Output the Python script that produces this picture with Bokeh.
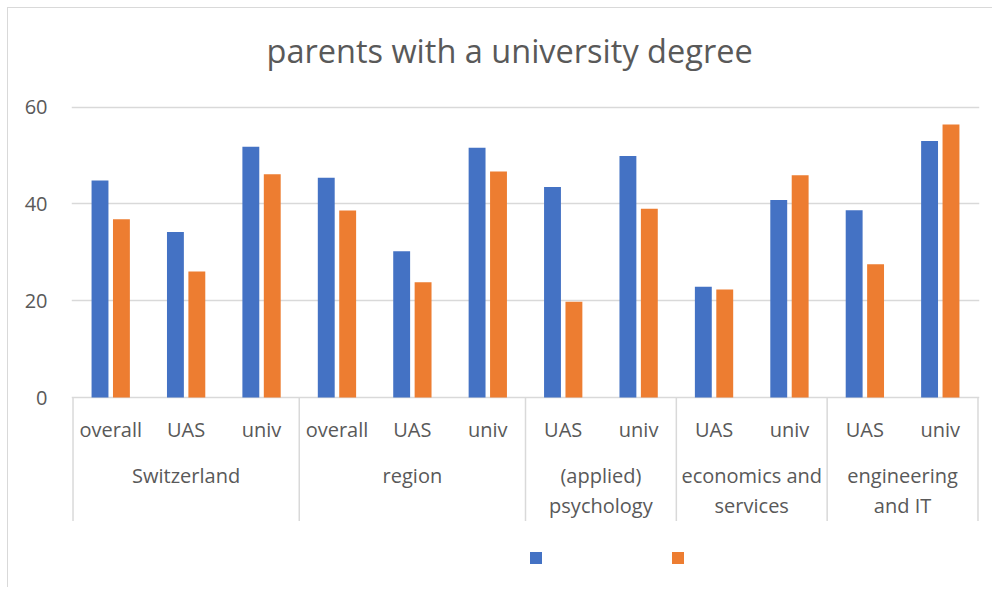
from bokeh.plotting import figure
from bokeh.models import ColumnDataSource, FactorRange, Range1d, FixedTicker, Legend, LegendItem
from bokeh.transform import dodge
from bokeh.core.properties import value
from bokeh.embed import file_html
from bokeh.resources import INLINE

# ---------------- data ----------------
groups = ["Switzerland", "region", "(applied) psychology", "economics and services", "engineering and IT"]
group_lines = [["Switzerland"], ["region"], ["(applied)", "psychology"],
               ["economics and", "services"], ["engineering", "and IT"]]
subcats = [["overall", "UAS", "univ"], ["overall", "UAS", "univ"],
           ["UAS", "univ"], ["UAS", "univ"], ["UAS", "univ"]]
series_blue = [44.8, 34.2, 51.8, 45.4, 30.2, 51.6, 43.5, 49.9, 22.9, 40.8, 38.7, 53.0]
series_orange = [36.8, 26.0, 46.1, 38.6, 23.8, 46.7, 19.8, 39.0, 22.3, 45.9, 27.5, 56.4]
y_ticks = [0, 20, 40, 60]
title_text = "parents with a university degree"

# ---------------- style ----------------
BLUE = "#4472C4"
ORANGE = "#ED7D31"
GRID = "#d9d9d9"
TXT = "#595959"
FONT = "Open Sans"
PPU = 290.5 / 60.0          # pixels per value unit
Y_START = -191.0 / PPU
Y_END = 60 + 16.5 / PPU

factors = [(g, s) for g, ss in zip(groups, subcats) for s in ss]

x_range = FactorRange(*factors, factor_padding=0, group_padding=0,
                      range_padding=0.02, range_padding_units="absolute")

p = figure(width=985, height=580, x_range=x_range, y_range=Range1d(Y_START, Y_END),
           x_axis_location=None, output_backend="svg", toolbar_location=None,
           min_border_left=63, min_border_right=14, min_border_top=82, min_border_bottom=0)
p.margin = (7, 0, 0, 7)
p.styles = {"border-left": "1px solid #d9d9d9", "border-top": "1px solid #d9d9d9"}
p.outline_line_color = None
p.background_fill_color = "white"
p.border_fill_color = "white"

# title
p.title.text = title_text
p.title.text_font = FONT
p.title.text_font_size = "32.5px"
p.title.text_font_style = "normal"
p.title.text_color = TXT
p.title.align = "left"
p.title.offset = 195
p.title.standoff = 35

# y axis / grid
ticker = FixedTicker(ticks=y_ticks)
p.yaxis.ticker = ticker
p.ygrid.ticker = ticker
p.yaxis.axis_line_color = None
p.yaxis.major_tick_line_color = None
p.yaxis.minor_tick_line_color = None
p.yaxis.major_tick_in = 0
p.yaxis.major_tick_out = 0
p.yaxis.major_label_standoff = 24
p.yaxis.major_label_text_font = FONT
p.yaxis.major_label_text_font_size = "20px"
p.yaxis.major_label_text_color = TXT
p.ygrid.grid_line_color = GRID
p.ygrid.grid_line_width = 1.3
p.xgrid.visible = False

# bars
src = ColumnDataSource(dict(x=factors, blue=series_blue, orange=series_orange))
r1 = p.vbar(x=dodge("x", -0.142, range=p.x_range), top="blue", bottom=0, width=0.224,
            source=src, fill_color=BLUE, line_color=None)
r2 = p.vbar(x=dodge("x", 0.142, range=p.x_range), top="orange", bottom=0, width=0.224,
            source=src, fill_color=ORANGE, line_color=None)

# category axis (drawn in data space below zero)
sub_src = ColumnDataSource(dict(x=factors, t=[f[1] for f in factors]))
p.text(x="x", y=-32.0 / PPU, text="t", source=sub_src, text_font=value(FONT),
       text_font_size="20px", text_color=TXT, text_align="center", text_baseline="alphabetic")

gx, gy, gt = [], [], []
for g, ss, lines in zip(groups, subcats, group_lines):
    for i, line in enumerate(lines):
        gx.append((g, ss[0], (len(ss) - 1) / 2.0))
        gy.append(-(78.0 + 30.0 * i) / PPU)
        gt.append(line)
p.text(x="x", y="y", text="t", source=ColumnDataSource(dict(x=gx, y=gy, t=gt)),
       text_font=value(FONT), text_font_size="20px", text_color=TXT,
       text_align="center", text_baseline="alphabetic")

sx = [(g, ss[0], -0.5) for g, ss in zip(groups, subcats)] + [(groups[-1], subcats[-1][-1], 0.5)]
p.segment(x0="x", y0=0, x1="x", y1=-123.5 / PPU, source=ColumnDataSource(dict(x=sx)),
          line_color=GRID, line_width=1.5)

# legend (series without names)
legend = Legend(items=[LegendItem(label=value(" "), renderers=[r1]),
                       LegendItem(label=value(" "), renderers=[r2])],
                orientation="horizontal", location=(457, 23),
                glyph_width=15, glyph_height=15, label_height=15, label_width=107,
                label_standoff=0, spacing=20, padding=0, margin=0,
                label_text_font_size="1px",
                border_line_color=None, background_fill_alpha=0)
p.add_layout(legend)

open("out.html", "w").write(file_html(p, INLINE))
